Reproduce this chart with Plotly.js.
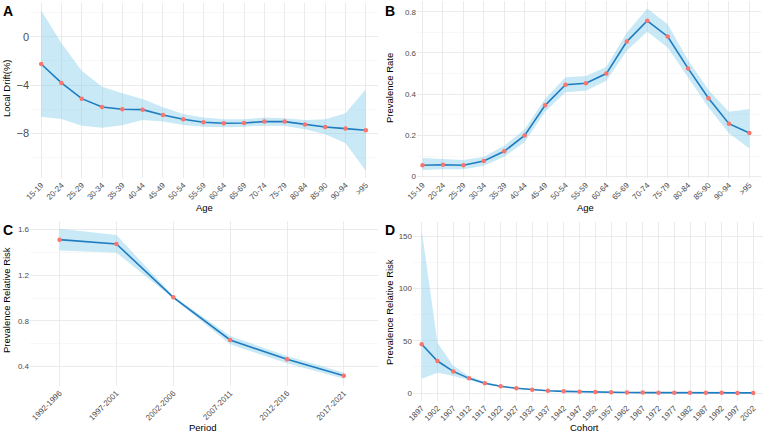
<!DOCTYPE html>
<html>
<head>
<meta charset="utf-8">
<script src="https://cdn.plot.ly/plotly-3.0.1.min.js"></script>
<style>html,body{margin:0;padding:0;background:#fff;}#chart{width:763px;height:432px;}</style>
</head>
<body>
<div id="chart"></div>
<script>
// Panel A: local drift by age
const ageGroups = ["15-19","20-24","25-29","30-34","35-39","40-44","45-49","50-54","55-59","60-64","65-69","70-74","75-79","80-84","85-90","90-94",">95"];
const driftVal = [-2.26,-3.83,-5.13,-5.82,-6.01,-6.04,-6.48,-6.84,-7.09,-7.17,-7.14,-7.03,-7.03,-7.26,-7.48,-7.61,-7.75];
const driftUpper = [2.2,-0.55,-2.81,-4.14,-4.69,-5.16,-5.85,-6.40,-6.70,-6.84,-6.84,-6.70,-6.76,-6.90,-6.84,-6.34,-4.36];
const driftLower = [-6.62,-6.81,-7.37,-7.53,-7.34,-6.90,-7.03,-7.31,-7.45,-7.50,-7.45,-7.37,-7.40,-7.67,-8.08,-8.83,-11.09];

// Panel B: age effect (prevalence rate)
const ageVal = [0.055,0.058,0.055,0.076,0.123,0.200,0.346,0.446,0.453,0.500,0.655,0.756,0.680,0.525,0.380,0.257,0.212];
const ageUpper = [0.090,0.084,0.081,0.097,0.150,0.230,0.378,0.482,0.488,0.533,0.698,0.816,0.739,0.566,0.420,0.315,0.328];
const ageLower = [0.032,0.036,0.036,0.053,0.097,0.168,0.315,0.410,0.417,0.465,0.611,0.703,0.627,0.482,0.336,0.210,0.136];

// Panel C: period effect
const periods = ["1992-1996","1997-2001","2002-2006","2007-2011","2012-2016","2017-2021"];
const periodVal = [1.510,1.472,1.006,0.633,0.464,0.321];
const periodUpper = [1.606,1.550,1.018,0.668,0.493,0.348];
const periodLower = [1.416,1.396,0.995,0.596,0.429,0.295];

// Panel D: cohort effect
const cohorts = ["1897","1902","1907","1912","1917","1922","1927","1932","1937","1942","1947","1952","1957","1962","1967","1972","1977","1982","1987","1992","1997","2002"];
const cohortVal = [46.6,30.6,20.7,14.0,9.3,6.4,4.5,3.2,2.2,1.6,1.2,0.9,0.7,0.5,0.4,0.3,0.25,0.2,0.15,0.12,0.1,0.08];
const cohortUpper = [156,48,26,16,10.5,7.1,5.0,3.6,2.5,1.8,1.4,1.1,0.9,0.7,0.6,0.5,0.45,0.4,0.35,0.33,0.32,0.35];
const cohortLower = [13.7,19.5,16.3,12.5,8.3,5.8,4.1,2.9,2.0,1.4,1.0,0.75,0.55,0.4,0.3,0.2,0.15,0.1,0.07,0.05,0.03,0.02];

const ribbon = 'rgba(135,206,235,0.45)';
const lineCol = '#1f7cc0';
const ptCol = '#F8766D';

function panel(x, val, up, lo, xa, ya) {
  return [
    {x: x, y: lo, xaxis: xa, yaxis: ya, mode: 'lines', line: {width: 0, color: ribbon}, hoverinfo: 'skip', showlegend: false, type: 'scatter'},
    {x: x, y: up, xaxis: xa, yaxis: ya, mode: 'lines', line: {width: 0, color: ribbon}, fill: 'tonexty', fillcolor: ribbon, hoverinfo: 'skip', showlegend: false, type: 'scatter'},
    {x: x, y: val, xaxis: xa, yaxis: ya, mode: 'lines+markers', line: {width: 1.6, color: lineCol}, marker: {size: 4.5, color: ptCol}, showlegend: false, type: 'scatter'}
  ];
}

const data = [].concat(
  panel(ageGroups, driftVal, driftUpper, driftLower, 'x', 'y'),
  panel(ageGroups, ageVal, ageUpper, ageLower, 'x2', 'y2'),
  panel(periods, periodVal, periodUpper, periodLower, 'x3', 'y3'),
  panel(cohorts, cohortVal, cohortUpper, cohortLower, 'x4', 'y4')
);

const W = 763, H = 432;
const tickFont = {family: 'Liberation Sans, Arial, sans-serif', size: 8, color: '#4d4d4d'};
const majorGrid = '#e6e6e6';
const minorGrid = '#f3f3f3';

function xax(domain, range, anchor) {
  return {domain: domain, range: range, anchor: anchor, type: 'category', tickangle: -45,
    tickfont: tickFont, showgrid: true, gridcolor: majorGrid, gridwidth: 0.8, zeroline: false,
    showline: false, ticks: '', ticklen: 0, fixedrange: true};
}
function yax(domain, range, anchor, dtick, mdtick, fs) {
  return {domain: domain, range: range, anchor: anchor, dtick: dtick, tick0: 0,
    tickfont: Object.assign({}, tickFont, {size: fs || 8}), showgrid: true, gridcolor: majorGrid, gridwidth: 0.8,
    minor: {dtick: mdtick, tick0: 0, showgrid: true, gridcolor: minorGrid, gridwidth: 0.6},
    zeroline: false, showline: false, ticks: '', ticklen: 0, fixedrange: true};
}

const layout = {
  width: W, height: H,
  margin: {l: 0, r: 0, t: 0, b: 0},
  paper_bgcolor: '#ffffff', plot_bgcolor: '#ffffff',
  font: {family: 'Liberation Sans, Arial, sans-serif', color: '#000'},
  showlegend: false,
  xaxis: xax([30/W, 378/W], [-0.55, 16.6], 'y'),
  yaxis: yax([1-178/H, 1-3/H], [-11.70, 2.79], 'x', 4, 2, 11),
  xaxis2: xax([417/W, 761/W], [-0.27, 16.57], 'y2'),
  yaxis2: yax([1-178/H, 1-1/H], [-0.0065, 0.852], 'x2', 0.2, 0.1),
  xaxis3: xax([30/W, 378/W], [-0.52, 5.6], 'y3'),
  yaxis3: yax([1-386/H, 1-221/H], [0.231, 1.673], 'x3', 0.4, 0.2),
  xaxis4: xax([413/W, 763/W], [-0.55, 21.62], 'y4'),
  yaxis4: yax([1-401/H, 1-222/H], [-7.66, 163.7], 'x4', 50, 25),
  annotations: [
    {text: '<b>A</b>', x: 1/W, y: 1-1/H, xref: 'paper', yref: 'paper', xanchor: 'left', yanchor: 'top', showarrow: false, font: {size: 14, color: '#000'}},
    {text: '<b>B</b>', x: 383/W, y: 1-1/H, xref: 'paper', yref: 'paper', xanchor: 'left', yanchor: 'top', showarrow: false, font: {size: 14, color: '#000'}},
    {text: '<b>C</b>', x: 1/W, y: 1-220/H, xref: 'paper', yref: 'paper', xanchor: 'left', yanchor: 'top', showarrow: false, font: {size: 14, color: '#000'}},
    {text: '<b>D</b>', x: 383/W, y: 1-220/H, xref: 'paper', yref: 'paper', xanchor: 'left', yanchor: 'top', showarrow: false, font: {size: 14, color: '#000'}},
    {text: 'Age', x: 204/W, y: 1-208/H, xref: 'paper', yref: 'paper', xanchor: 'center', yanchor: 'middle', showarrow: false, font: {size: 9.5, color: '#000'}},
    {text: 'Age', x: 585/W, y: 1-208/H, xref: 'paper', yref: 'paper', xanchor: 'center', yanchor: 'middle', showarrow: false, font: {size: 9.5, color: '#000'}},
    {text: 'Period', x: 202/W, y: 1-427/H, xref: 'paper', yref: 'paper', xanchor: 'center', yanchor: 'middle', showarrow: false, font: {size: 9.5, color: '#000'}},
    {text: 'Cohort', x: 584/W, y: 1-427/H, xref: 'paper', yref: 'paper', xanchor: 'center', yanchor: 'middle', showarrow: false, font: {size: 9.5, color: '#000'}},
    {text: 'Local Drift(%)', x: 6/W, y: 1-88/H, xref: 'paper', yref: 'paper', xanchor: 'center', yanchor: 'middle', textangle: -90, showarrow: false, font: {size: 9.5, color: '#000'}},
    {text: 'Prevalence Rate', x: 389/W, y: 1-88/H, xref: 'paper', yref: 'paper', xanchor: 'center', yanchor: 'middle', textangle: -90, showarrow: false, font: {size: 9.5, color: '#000'}},
    {text: 'Prevalence Relative Risk', x: 6/W, y: 1-300/H, xref: 'paper', yref: 'paper', xanchor: 'center', yanchor: 'middle', textangle: -90, showarrow: false, font: {size: 9.5, color: '#000'}},
    {text: 'Prevalence Relative Risk', x: 389/W, y: 1-312/H, xref: 'paper', yref: 'paper', xanchor: 'center', yanchor: 'middle', textangle: -90, showarrow: false, font: {size: 9.5, color: '#000'}}
  ]
};

Plotly.newPlot('chart', data, layout, {displayModeBar: false, staticPlot: true});
</script>
</body>
</html>
